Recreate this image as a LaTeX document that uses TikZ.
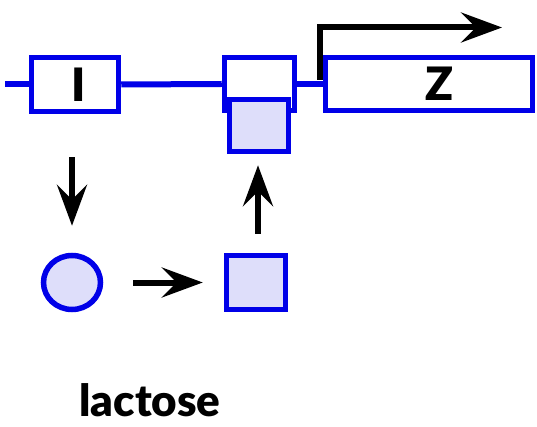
\documentclass[tikz,border=0pt]{standalone}
\usepackage{fontspec}
\setmainfont{Lato}[BoldFont={Lato Black}]
\usetikzlibrary{arrows.meta,shapes.geometric}
\definecolor{gblue}{RGB}{0,0,232}
\definecolor{glav}{RGB}{222,222,250}
\tikzset{
  gene/.style={draw=gblue, line width=5.5pt, fill=white, rectangle, inner sep=0pt, font=\bfseries\fontsize{46}{46}\selectfont},
  prot/.style={draw=gblue, line width=5.5pt, fill=glav, rectangle, inner sep=0pt},
  dna/.style={draw=gblue, line width=6pt},
  arr/.style={draw=black, line width=6pt, -{Stealth[length=41pt,width=30pt,inset=15pt]}},
}
\begin{document}
\begin{tikzpicture}[x=1pt,y=-1pt]
\useasboundingbox (0,0) rectangle (537,427);
% DNA
\coordinate (left) at (5,84.5);
\node[gene, minimum width=87pt, minimum height=54pt] (I) at (75,84.5) {\hspace*{7pt}I};
\node[gene, minimum width=70pt, minimum height=53pt] (op) at (259.5,84) {};
\node[gene, minimum width=207pt, minimum height=53pt] (Z) at (429,84) {\hspace*{20pt}Z};
\draw[dna] (left) -- (I.west);
\draw[dna] (I.east) -- (op.west);
\draw[dna] (op.east) -- (Z.west);
% bound repressor
\node[prot, minimum width=59pt, minimum height=52pt] (rep) at (259,125.5) {};
% promoter arrow
\coordinate (p0) at (320,80);
\coordinate (p1) at (320,27.5);
\coordinate (p2) at (502,27.5);
\draw[arr, line join=miter] (p0) -- (p1) -- (p2);
% lower part
\node[prot, ellipse, minimum width=57pt, minimum height=54pt] (ell) at (72,282.5) {};
\node[prot, minimum width=59pt, minimum height=54pt] (sq) at (256,282.5) {};
\draw[arr, shorten <=43pt, shorten >=27pt] (ell.north |- I.south) -- (ell.north);
\draw[arr, shorten <=30pt, shorten >=21pt] (ell.east) -- (sq.west);
\draw[arr, shorten <=19pt, shorten >=11pt] (sq.north -| 258,0) -- (rep.south -| 258,0);
\node[font=\bfseries\fontsize{44}{44}\selectfont, anchor=base, inner sep=0pt] (lac) at (150,416) {lactose};
\end{tikzpicture}
\end{document}
